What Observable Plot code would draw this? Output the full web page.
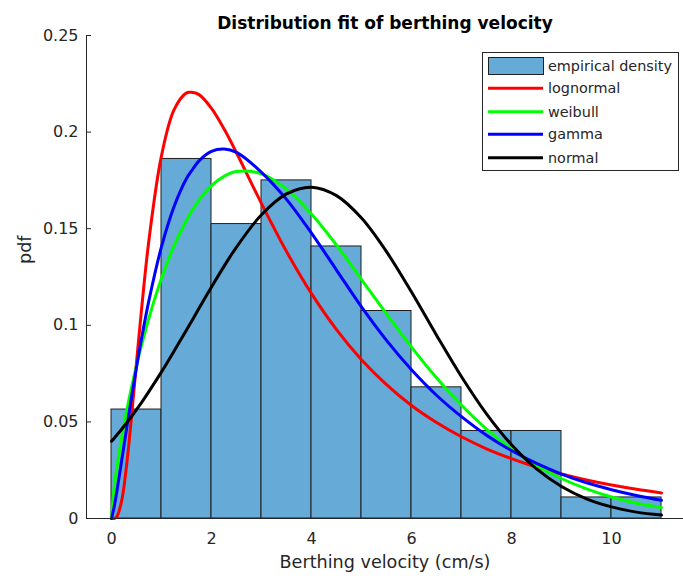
<!DOCTYPE html>
<html>
<head>
<meta charset="utf-8">
<script src="https://cdn.jsdelivr.net/npm/d3@7"></script>
<script src="https://cdn.jsdelivr.net/npm/@observablehq/plot@0.6"></script>
<style>
  body { margin: 0; background: #fff; }
  #wrap { position: relative; width: 683px; height: 581px; }
  #legend { position: absolute; left: 482px; top: 52px; }
</style>
</head>
<body>
<div id="wrap"><div id="legend"></div></div>
<script>
// ---------- data ----------
const titleText = "Distribution fit of berthing velocity";
const xLabel = "Berthing velocity (cm/s)";
const yLabel = "pdf";
const xTicks = [0, 2, 4, 6, 8, 10];
const yTicks = [0, 0.05, 0.1, 0.15, 0.2, 0.25];
const yTickLabels = ["0", "0.05", "0.1", "0.15", "0.2", "0.25"];

const binEdges = [0, 1, 2, 3, 4, 5, 6, 7, 8, 9, 10, 11];
const binDensity = [0.0564, 0.1861, 0.1524, 0.1750, 0.1408, 0.1074, 0.0679, 0.0453, 0.0453, 0.0109, 0.0109];

const xGrid = [0, 0.05, 0.1, 0.2, 0.3, 0.4, 0.5, 0.6, 0.75, 1, 1.25, 1.5, 1.6, 1.75, 2, 2.25, 2.5, 3, 3.5, 4, 4.5, 5, 5.5, 6, 6.5, 7, 7.5, 8, 8.5, 9, 9.5, 10, 10.5, 11];
const lognormalPdf = [0, 0, 0.0007, 0.0087, 0.0272, 0.0527, 0.0807, 0.108, 0.1444, 0.1878, 0.2115, 0.2203, 0.2206, 0.2194, 0.2123, 0.2017, 0.1893, 0.163, 0.1382, 0.1164, 0.0978, 0.0822, 0.0693, 0.0585, 0.0497, 0.0423, 0.0361, 0.031, 0.0266, 0.023, 0.0199, 0.0173, 0.0151, 0.0132];
const weibullPdf = [0, 0.0151, 0.025, 0.0413, 0.0553, 0.0678, 0.0791, 0.0896, 0.1039, 0.1243, 0.1411, 0.1544, 0.1589, 0.1648, 0.1723, 0.1771, 0.1796, 0.1784, 0.1705, 0.1576, 0.1415, 0.1237, 0.1059, 0.0887, 0.0728, 0.0586, 0.0463, 0.036, 0.0275, 0.0207, 0.0153, 0.0111, 0.0079, 0.0057];
const gammaPdf = [0, 0.0056, 0.013, 0.0294, 0.0462, 0.0626, 0.0783, 0.093, 0.113, 0.1407, 0.1614, 0.176, 0.1799, 0.1851, 0.1900, 0.1912, 0.1895, 0.1792, 0.1652, 0.1477, 0.1286, 0.1095, 0.0922, 0.0770, 0.0638, 0.0527, 0.0431, 0.0352, 0.0285, 0.023, 0.0185, 0.0149, 0.0119, 0.0094];
const normalPdf = [0.0400, 0.0414, 0.043, 0.0461, 0.0494, 0.0528, 0.0564, 0.06, 0.0658, 0.0759, 0.0866, 0.0976, 0.1020, 0.1088, 0.1198, 0.1305, 0.1405, 0.1572, 0.168, 0.1715, 0.1671, 0.1555, 0.1381, 0.1172, 0.0949, 0.0734, 0.0542, 0.0382, 0.0257, 0.0166, 0.0102, 0.006, 0.0033, 0.0018];

const seriesNames = ["lognormal", "weibull", "gamma", "normal"];
const seriesColors = ["#ff0000", "#00ff00", "#0000ff", "#000000"];
const seriesValues = [lognormalPdf, weibullPdf, gammaPdf, normalPdf];
const barLabel = "empirical density";
const barFill = "#66aad7";

// ---------- build ----------
const xDomain = [-0.5, 11.44];
const axisColor = "#262626";
const font = "DejaVu Sans";

const bars = binDensity.map((d, i) => ({x1: binEdges[i], x2: binEdges[i + 1], y: d}));
const curveMarks = seriesValues.map((vals, s) =>
  Plot.line(vals.map((v, i) => ({x: xGrid[i], y: v})), {
    x: "x", y: "y", stroke: seriesColors[s], strokeWidth: 3, curve: "catmull-rom"
  })
);

const plot = Plot.plot({
  width: 683,
  height: 581,
  marginLeft: 86,
  marginRight: 0,
  marginTop: 35,
  marginBottom: 63,
  style: {fontFamily: font, fontSize: "16px", color: axisColor, background: "#fff"},
  x: {domain: xDomain},
  y: {domain: [0, 0.25]},
  marks: [
    Plot.axisX(xTicks, {tickSize: 0, tickPadding: 14, fontSize: 16, fill: axisColor, label: null}),
    Plot.axisY(yTicks, {tickSize: -5, tickPadding: 13, fontSize: 16, fill: axisColor, stroke: axisColor,
      tickFormat: (d) => yTickLabels[yTicks.indexOf(d)], label: null}),
    Plot.rectY(bars, {x1: "x1", x2: "x2", y: "y", fill: barFill, stroke: "#1f1f1f", strokeWidth: 1, inset: 0}),
    ...curveMarks,
    Plot.ruleY([0], {stroke: axisColor, strokeWidth: 1}),
    Plot.ruleX([xDomain[0]], {stroke: axisColor, strokeWidth: 1}),
    Plot.text([titleText], {frameAnchor: "top", dy: -19, fontWeight: "bold", fontSize: 17, fill: "#000"}),
    Plot.text([xLabel], {frameAnchor: "bottom", dy: 49, fontSize: 17.6, fill: axisColor}),
    Plot.text([yLabel], {frameAnchor: "left", dx: -61, dy: -13, rotate: -90, fontSize: 17.6, fill: axisColor})
  ]
});
document.getElementById("wrap").prepend(plot);

// ---------- legend ----------
const lw = 197, lh = 119;
const leg = d3.select("#legend").append("svg")
  .attr("width", lw).attr("height", lh)
  .style("font-family", font).style("font-size", "14.4px");
leg.append("rect").attr("x", 0.5).attr("y", 0.5).attr("width", lw - 1).attr("height", lh - 1)
  .attr("fill", "#fff").attr("stroke", axisColor).attr("stroke-width", 1);
const rowY = [13.8, 36.3, 59.7, 82.3, 105.7];
leg.append("rect").attr("x", 6.5).attr("y", 5.5).attr("width", 55).attr("height", 17)
  .attr("fill", barFill).attr("stroke", "#1f1f1f").attr("stroke-width", 1);
leg.append("text").attr("x", 66).attr("y", rowY[0]).attr("dy", "0.35em").attr("fill", axisColor).text(barLabel);
seriesNames.forEach((name, i) => {
  const y = rowY[i + 1];
  leg.append("line").attr("x1", 6).attr("x2", 61).attr("y1", y).attr("y2", y)
    .attr("stroke", seriesColors[i]).attr("stroke-width", 3);
  leg.append("text").attr("x", 66).attr("y", y).attr("dy", "0.35em").attr("fill", axisColor).text(name);
});
</script>
</body>
</html>
